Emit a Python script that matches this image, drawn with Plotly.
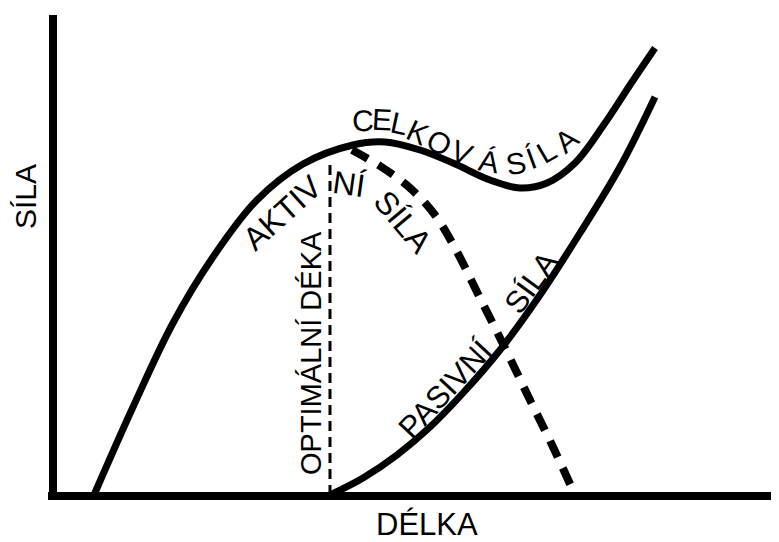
import plotly.graph_objects as go

# ---- data (length on x, force on y) ----
total_len = [94, 133, 173, 213, 257, 303, 353, 385, 420, 453, 490, 520, 547, 575, 605, 630, 655]
total_force = [0, 88, 172, 238, 295, 331, 350, 353, 345, 332, 315, 307, 312, 332, 372, 410, 447]

active_len = [352, 380, 410, 435, 455, 480, 505, 530, 553, 575]
active_force = [345, 329, 307, 280, 247, 197, 147, 95, 48, 0]

passive_len = [330, 363, 397, 430, 463, 500, 540, 580, 620, 655]
passive_force = [0, 17, 40, 68, 102, 145, 200, 262, 328, 398]

optimum_len = [330, 330]
optimum_force = [0, 335]

axis_y_len = [53, 53]
axis_y_force = [-1, 480]
axis_x_len = [48, 779]
axis_x_force = [-1, -1]

FONT = "Liberation Sans, Arial, sans-serif"
BLACK = "#000000"

fig = go.Figure()
fig.add_trace(go.Scatter(x=axis_y_len, y=axis_y_force, mode="lines",
                         line=dict(color=BLACK, width=8), hoverinfo="skip"))
fig.add_trace(go.Scatter(x=axis_x_len, y=axis_x_force, mode="lines",
                         line=dict(color=BLACK, width=8), hoverinfo="skip"))
fig.add_trace(go.Scatter(x=optimum_len, y=optimum_force, mode="lines",
                         line=dict(color=BLACK, width=3, dash="10px,6px"), hoverinfo="skip"))
fig.add_trace(go.Scatter(x=total_len, y=total_force, mode="lines",
                         line=dict(color=BLACK, width=7, shape="spline", smoothing=1)))
fig.add_trace(go.Scatter(x=active_len, y=active_force, mode="lines",
                         line=dict(color=BLACK, width=8, shape="spline", smoothing=1, dash="18px,12px")))
fig.add_trace(go.Scatter(x=passive_len, y=passive_force, mode="lines",
                         line=dict(color=BLACK, width=7, shape="spline", smoothing=1)))

def lab(text, x, py, angle=0, size=30):
    return dict(text=text, x=x, y=495 - py, xref="x", yref="y", showarrow=False,
                textangle=angle, xanchor="center", yanchor="middle",
                font=dict(family=FONT, size=size, color=BLACK))

ann = [
    lab("SÍLA", 25, 197, -90, 30),
    lab("DÉLKA", 427, 524, 0, 31),
    lab("OPTIMÁLNÍ DÉKA", 311, 353, -90, 29),
    lab("AKTIV", 282, 213, -42, 32),
    lab("NÍ", 349, 184, 8, 32),
    lab("SÍLA", 403, 222, 50, 32),
    lab("PASIVNÍ", 445, 389, -47, 31),
    lab("SÍLA", 531, 282, -54, 31),
]
celk = [("C", 363, 120, -2), ("E", 382, 119, 3), ("L", 399, 123, 12), ("K", 418, 132, 25),
        ("O", 439, 142, 28), ("V", 462, 152, 22), ("Á", 489, 161, 10), ("S", 516, 163, -10),
        ("Í", 531, 158, -20), ("L", 546, 151, -30), ("A", 566, 140, -40)]
for ch, x, py, a in celk:
    ann.append(lab(ch, x, py, a, 30))

# the page adds an 8px body margin: shift the ranges so page pixels line up
fig.update_layout(
    width=771, height=534,
    margin=dict(l=0, r=0, t=0, b=0),
    paper_bgcolor="white", plot_bgcolor="white",
    showlegend=False,
    xaxis=dict(range=[8, 779], visible=False, fixedrange=True),
    yaxis=dict(range=[-47, 487], visible=False, fixedrange=True),
    annotations=ann,
)
fig.write_html("out.html")
